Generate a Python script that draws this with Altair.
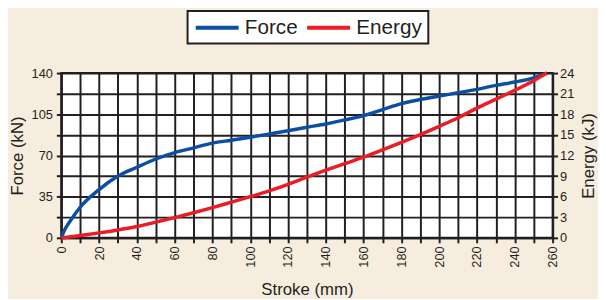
import altair as alt
import pandas as pd

# ---- data ----
stroke_mm = [0, 2, 5, 10, 20, 30, 40, 50, 60, 70, 80, 90, 100, 110, 120, 130,
             140, 150, 160, 170, 180, 190, 200, 210, 220, 230, 240, 250, 257]
force_kn = [0, 7.5, 15, 26, 41, 52.5, 60, 67, 72.5, 76.5, 80.5, 83, 85.5, 88.2, 91, 94,
            96.8, 100.2, 103.8, 109, 114, 117.6, 120.5, 123.3, 126.2, 129.6, 132.4, 136, 140]
energy_kj = [0, 0.05, 0.15, 0.34, 0.72, 1.15, 1.65, 2.3, 2.95, 3.65, 4.4, 5.2, 6.0, 6.85, 7.8, 8.85,
             9.85, 10.8, 11.75, 12.8, 13.9, 15.05, 16.25, 17.5, 18.9, 20.2, 21.5, 22.9, 24]

series_names = ["Force", "Energy"]
series_colors = ["#0b4fa2", "#ec1c24"]

x_ticks = list(range(0, 261, 10))
force_ticks = [i * 17.5 for i in range(9)]
energy_ticks = list(range(0, 25, 3))

INK = "#231f20"
FONT = "Liberation Sans"

force_df = pd.DataFrame({"Stroke": stroke_mm, "Value": force_kn, "Series": "Force"})
energy_df = pd.DataFrame({"Stroke": stroke_mm, "Value": energy_kj, "Series": "Energy"})

color = alt.Color(
    "Series:N",
    scale=alt.Scale(domain=series_names, range=series_colors),
    legend=alt.Legend(
        title=None,
        orient="none",
        legendX=128,
        legendY=-63,
        direction="horizontal",
        symbolType="M-2.5,0H2.5",
        symbolSize=303,
        symbolStrokeWidth=4,
        symbolOffset=13,
        labelOffset=17,
        columnPadding=1,
        padding=6,
        labelFont=FONT,
        labelFontSize=21,
        labelColor=INK,
        fillColor="white",
        strokeColor=INK,
    ),
)

x_enc = alt.X(
    "Stroke:Q",
    scale=alt.Scale(domain=[0, 260], nice=False, zero=False),
    axis=alt.Axis(
        values=x_ticks,
        labelExpr="datum.value % 20 == 0 ? datum.label : ''",
        labelAngle=270,
        labelFlush=False,
        labelOverlap=False,
        labelPadding=3,
        grid=True,
        title="Stroke (mm)",
        titleX=249,
        titleY=57,
        titleAlign="center",
        titleBaseline="alphabetic",
    ),
)

force_line = alt.Chart(force_df).mark_line(strokeWidth=3.5, interpolate="monotone").encode(
    x=x_enc,
    y=alt.Y(
        "Value:Q",
        scale=alt.Scale(domain=[0, 140], nice=False),
        axis=alt.Axis(
            orient="left",
            values=force_ticks,
            labelExpr="datum.value % 35 == 0 ? datum.label : ''",
            labelPadding=4,
            grid=True,
            title="Force (kN)",
            titleAngle=270,
            titleX=-39,
            titleY=83.5,
            titleAlign="center",
            titleBaseline="alphabetic",
        ),
    ),
    color=color,
)

energy_line = alt.Chart(energy_df).mark_line(strokeWidth=3.5, interpolate="monotone").encode(
    x=x_enc,
    y=alt.Y(
        "Value:Q",
        scale=alt.Scale(domain=[0, 24], nice=False),
        axis=alt.Axis(
            orient="right",
            values=energy_ticks,
            labelPadding=2,
            grid=False,
            title="Energy (kJ)",
            titleAngle=270,
            titleX=41,
            titleY=83.5,
            titleAlign="center",
            titleBaseline="alphabetic",
        ),
    ),
    color=color,
)

chart = (
    alt.layer(force_line, energy_line)
    .resolve_scale(y="independent")
    .properties(
        width=498,
        height=167,
        background="#f6eddf",
        autosize=alt.AutoSizeParams(type="none"),
        padding={"left": 54, "top": 64, "right": 46, "bottom": 60},
    )
    .configure_view(fill="white", stroke=INK, strokeWidth=2)
    .configure_axis(
        domainColor=INK,
        domainWidth=2,
        tickColor=INK,
        tickWidth=2,
        tickSize=5,
        gridColor=INK,
        gridWidth=2,
        gridOpacity=1,
        labelFont=FONT,
        labelFontSize=13,
        labelColor=INK,
        titleFont=FONT,
        titleFontSize=17,
        titleFontWeight="normal",
        titleColor=INK,
    )
    .configure_legend(strokeWidth=2)
)

chart.save("out.html", embed_options={"renderer": "svg", "actions": False})
